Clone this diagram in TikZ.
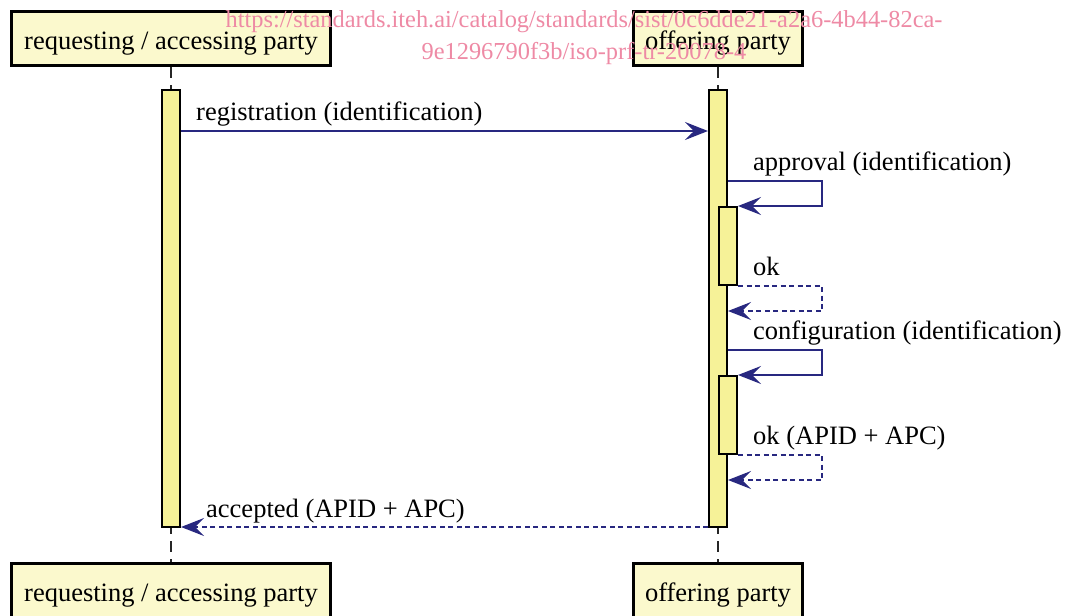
\documentclass[tikz,border=0pt]{standalone}
\usepackage{fontspec}
\setmainfont{Liberation Serif}
\usetikzlibrary{arrows.meta}
\definecolor{boxfill}{RGB}{251,249,205}
\definecolor{actfill}{RGB}{246,242,152}
\definecolor{msgcol}{RGB}{40,40,128}
\definecolor{wmcol}{RGB}{238,138,165}
\begin{document}
\begin{tikzpicture}[x=1pt,y=-1pt,
  party/.style={draw=black, line width=2.8pt, fill=boxfill, minimum height=54.2pt, inner sep=0pt, text height=21pt, text depth=0pt, font=\fontsize{26.5}{30}\selectfont},
  actbar/.style={draw=black, line width=2pt, fill=actfill, minimum width=18pt, inner sep=0pt},
  msgline/.style={draw=msgcol, line width=1.6pt, -{Stealth[length=23pt,width=18pt,inset=9pt]}},
  retline/.style={msgline, dash pattern=on 5pt off 3.5pt},
  lbl/.style={anchor=base west, inner sep=0pt, font=\fontsize{26.5}{30}\selectfont},
  life/.style={draw=black!85, line width=1.6pt, dash pattern=on 11pt off 7pt},
  wmtext/.style={anchor=base, inner sep=0pt, text=wmcol, font=\fontsize{24.4}{30}\selectfont}]
\useasboundingbox (0,0) rectangle (1077,616);
\clip (0,0) rectangle (1077,616);

% participants
\node[party, minimum width=319.2pt] (ltop) at (171,38.5) {requesting / accessing party};
\node[party, minimum width=169.2pt] (rtop) at (718,38.5) {offering party};
\node[party, minimum width=319.2pt] (lbot) at (171,590.5) {requesting / accessing party};
\node[party, minimum width=169.2pt] (rbot) at (718,590.5) {offering party};

% activation bars
\node[actbar, minimum height=437pt] (la) at (171,308.5) {};
\node[actbar, minimum height=437pt] (ra) at (718,308.5) {};

% lifelines
\draw[life] (ltop.south) -- (la.north);
\draw[life] (rtop.south) -- (ra.north);
\draw[life, dash phase=5pt] (la.south) -- (lbot.north);
\draw[life, dash phase=5pt] (ra.south) -- (rbot.north);

% nested activations
\node[actbar, minimum height=78pt] (n1) at (728,246) {};
\node[actbar, minimum height=78pt] (n2) at (728,415) {};

% coordinates
\coordinate (y1) at (0,131);
\coordinate (t1) at (822,181);
\coordinate (t2) at (822,286);
\coordinate (y2) at (0,311);
\coordinate (t3) at (822,350);
\coordinate (t4) at (822,455);
\coordinate (y4) at (0,480);
\coordinate (y5) at (0,527);

% messages
\draw[msgline] (la.east |- y1) -- (ra.west |- y1);
\node[lbl] (l1) at (196,120) {registration (identification)};

\draw[msgline] (ra.east |- t1) -- (t1) |- (n1.north east);
\node[lbl] (l2) at (753,170) {approval (identification)};

\draw[retline] (n1.south east) -- (t2) |- (ra.east |- y2);
\node[lbl] (l3) at (753,275) {ok};

\draw[msgline] (ra.east |- t3) -- (t3) |- (n2.north east);
\node[lbl] (l4) at (753,339) {configuration (identification)};

\draw[retline] (n2.south east) -- (t4) |- (ra.east |- y4);
\node[lbl] (l5) at (753,444) {ok (APID + APC)};

\draw[retline] (ra.west |- y5) -- (la.east |- y5);
\node[lbl] (l6) at (206,517) {accepted (APID + APC)};

% watermark
\node[wmtext] (wm1) at (584,27) {https://standards.iteh.ai/catalog/standards/sist/0c6dde21-a2a6-4b44-82ca-};
\node[wmtext] (wm2) at (584,59) {9e1296790f3b/iso-prf-tr-20078-4};
\end{tikzpicture}
\end{document}
